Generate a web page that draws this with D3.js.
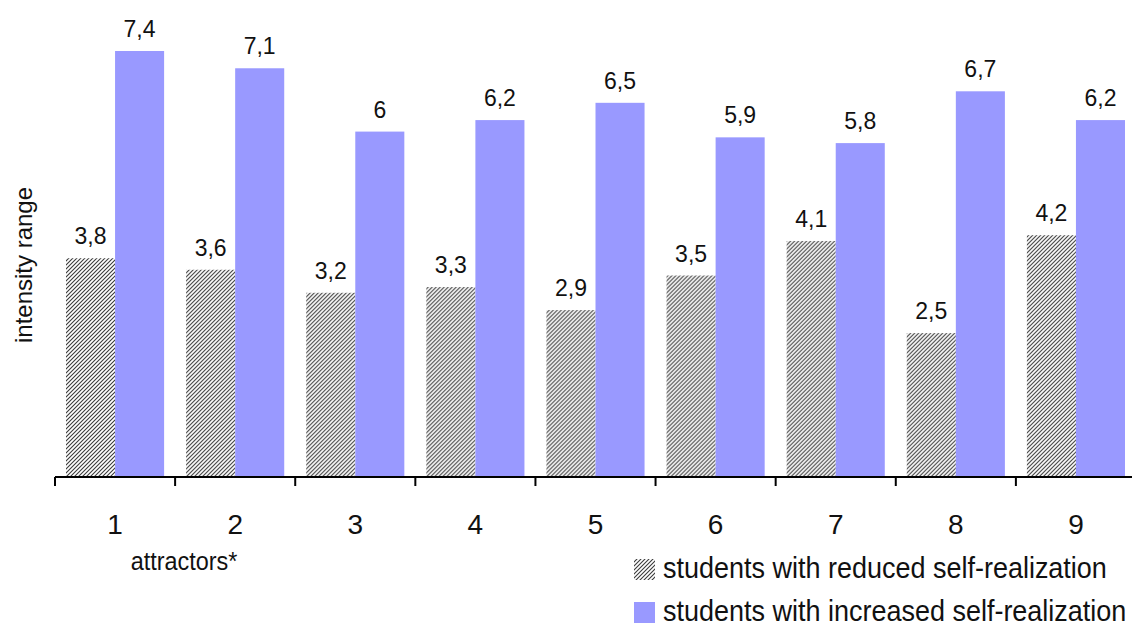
<!DOCTYPE html>
<html>
<head>
<meta charset="utf-8">
<script src="https://cdn.jsdelivr.net/npm/d3@7"></script>
<style>
  html, body { margin: 0; padding: 0; background: #fff; }
  svg { display: block; font-family: "Liberation Sans", Arial, sans-serif; }
</style>
</head>
<body>
<svg id="chart" width="1132" height="628"></svg>
<script>
// Attractor numbers along the x axis
const categories = ["1", "2", "3", "4", "5", "6", "7", "8", "9"];
// Intensity for each group of students
const reduced = [3.8, 3.6, 3.2, 3.3, 2.9, 3.5, 4.1, 2.5, 4.2];
const increased = [7.4, 7.1, 6.0, 6.2, 6.5, 5.9, 5.8, 6.7, 6.2];
const seriesNames = [
  "students with reduced self-realization",
  "students with increased self-realization"
];

const svg = d3.select("#chart");
const baseY = 477;
const left = 55, right = 1136;

const x = d3.scaleBand().domain(categories).range([left, right]).paddingInner(0).paddingOuter(0);
const inner = d3.scaleBand().domain([0, 1]).range([11, x.bandwidth() - 11]);
const y = d3.scaleLinear().domain([0, 7.4]).range([baseY, 51]);

// Diagonal hatch fill for the "reduced" series
const defs = svg.append("defs");
const pat = defs.append("pattern")
  .attr("id", "hatch")
  .attr("patternUnits", "userSpaceOnUse")
  .attr("width", 4).attr("height", 4);
pat.append("rect").attr("width", 4).attr("height", 4).attr("fill", "#fff");
pat.append("path")
  .attr("d", "M-1,1 l2,-2 M0,4 l4,-4 M3,5 l2,-2")
  .attr("stroke", "#3a3a3a").attr("stroke-width", 1.1);

const fmt = v => String(v).replace(".", ",");

const groups = svg.append("g").selectAll("g")
  .data(categories)
  .join("g")
  .attr("transform", d => `translate(${x(d)},0)`);

// Hatched bars
groups.append("rect")
  .attr("x", inner(0))
  .attr("width", inner.bandwidth())
  .attr("y", (d, i) => y(reduced[i]))
  .attr("height", (d, i) => baseY - y(reduced[i]))
  .attr("fill", "url(#hatch)");

// Solid bars
groups.append("rect")
  .attr("x", inner(1))
  .attr("width", inner.bandwidth())
  .attr("y", (d, i) => y(increased[i]))
  .attr("height", (d, i) => baseY - y(increased[i]))
  .attr("fill", "#9999ff");

// Value labels
const labelStyle = sel => sel
  .attr("text-anchor", "middle")
  .attr("font-size", 23)
  .attr("fill", "#111");
groups.append("text")
  .call(labelStyle)
  .attr("x", inner(0) + inner.bandwidth() / 2)
  .attr("y", (d, i) => y(reduced[i]) - 14)
  .text((d, i) => fmt(reduced[i]));
groups.append("text")
  .call(labelStyle)
  .attr("x", inner(1) + inner.bandwidth() / 2)
  .attr("y", (d, i) => y(increased[i]) - 14)
  .text((d, i) => fmt(increased[i]));

// X axis with ticks at group boundaries
const axisG = svg.append("g");
axisG.append("line")
  .attr("x1", left).attr("x2", 1132)
  .attr("y1", baseY).attr("y2", baseY)
  .attr("stroke", "#000").attr("stroke-width", 2);
axisG.selectAll("line.tick")
  .data(categories)
  .join("line")
  .attr("class", "tick")
  .attr("x1", d => x(d)).attr("x2", d => x(d))
  .attr("y1", baseY).attr("y2", baseY + 9)
  .attr("stroke", "#000").attr("stroke-width", 2);
axisG.selectAll("text")
  .data(categories)
  .join("text")
  .attr("x", d => x(d) + x.bandwidth() / 2)
  .attr("y", 534)
  .attr("text-anchor", "middle")
  .attr("font-size", 28)
  .attr("fill", "#111")
  .text(d => d);

// Axis titles
svg.append("text")
  .attr("transform", "translate(184,570) scale(0.9,1)")
  .attr("text-anchor", "middle")
  .attr("font-size", 26)
  .attr("fill", "#111")
  .text("attractors*");
svg.append("text")
  .attr("transform", "translate(32,265) rotate(-90)")
  .attr("text-anchor", "middle")
  .attr("font-size", 24)
  .attr("fill", "#111")
  .text("intensity range");

// Legend
const legendRows = [
  { name: seriesNames[0], fill: "url(#hatch)", top: 559, base: 578 },
  { name: seriesNames[1], fill: "#9999ff", top: 602, base: 621 }
];
legendRows.forEach(r => {
  svg.append("rect")
    .attr("x", 634).attr("y", r.top)
    .attr("width", 21).attr("height", 21)
    .attr("fill", r.fill);
  svg.append("text")
    .attr("transform", `translate(663,${r.base}) scale(0.9,1)`)
    .attr("font-size", 30)
    .attr("fill", "#111")
    .text(r.name);
});
</script>
</body>
</html>
